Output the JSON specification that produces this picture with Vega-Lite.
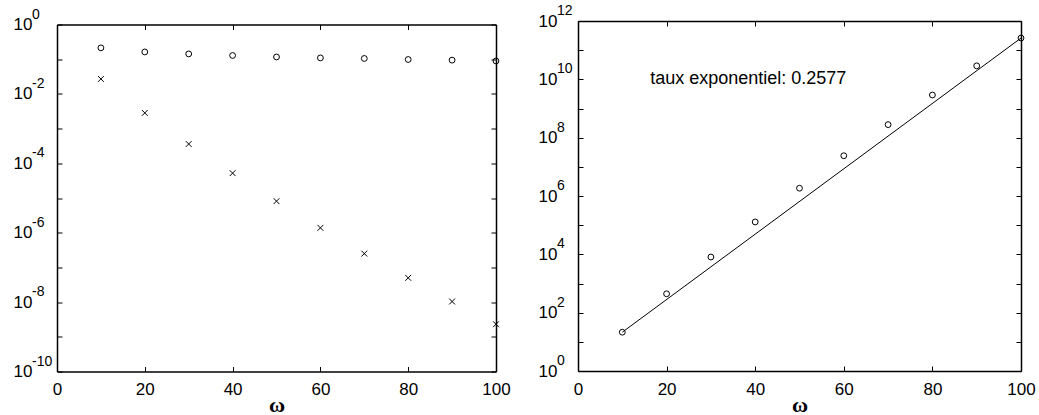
{
  "$schema": "https://vega.github.io/schema/vega-lite/v6.json",
  "padding": {"left": 13, "top": 4, "right": 5, "bottom": 0},
  "background": "white",
  "config": {
    "view": {"stroke": null},
    "axis": {
      "labelFont": "Liberation Sans",
      "labelFontSize": 17,
      "labelColor": "black",
      "tickColor": "black",
      "domainColor": "black",
      "tickSize": -5,
      "tickWidth": 1,
      "domainWidth": 1.5,
      "grid": false,
      "labelFlush": false,
      "labelOverlap": false,
      "labelBound": false
    }
  },
  "bounds": "full",
  "spacing": 27,
  "hconcat": [
    {
      "bounds": "flush",
      "spacing": 2.5,
      "vconcat": [
        {
          "width": 10,
          "height": 1,
          "data": {"values": [{"a": 1}]},
          "mark": {"type": "point", "opacity": 0},
          "encoding": {}
        },
        {
          "width": 439,
          "height": 347,
          "data": {
            "values": [
              {"w": 10, "v": 0.212, "s": "o"},
              {"w": 20, "v": 0.162, "s": "o"},
              {"w": 30, "v": 0.142, "s": "o"},
              {"w": 40, "v": 0.128, "s": "o"},
              {"w": 50, "v": 0.116, "s": "o"},
              {"w": 60, "v": 0.109, "s": "o"},
              {"w": 70, "v": 0.105, "s": "o"},
              {"w": 80, "v": 0.098, "s": "o"},
              {"w": 90, "v": 0.094, "s": "o"},
              {"w": 100, "v": 0.089, "s": "o"},
              {"w": 10, "v": 0.027, "s": "x"},
              {"w": 20, "v": 0.00283, "s": "x"},
              {"w": 30, "v": 0.00036, "s": "x"},
              {"w": 40, "v": 0.000052, "s": "x"},
              {"w": 50, "v": 0.0000081, "s": "x"},
              {"w": 60, "v": 0.00000138, "s": "x"},
              {"w": 70, "v": 0.00000025, "s": "x"},
              {"w": 80, "v": 0.00000005, "s": "x"},
              {"w": 90, "v": 0.0000000104, "s": "x"},
              {"w": 100, "v": 0.0000000023, "s": "x"}
            ]
          },
          "layer": [
            {
              "mark": {"type": "point", "filled": false, "color": "black", "strokeWidth": 1, "opacity": 1, "size": 34},
              "encoding": {
                "x": {
                  "field": "w", "type": "quantitative",
                  "scale": {"domain": [0, 100], "nice": false, "zero": false},
                  "axis": {"orient": "bottom", "values": [0, 20, 40, 60, 80, 100], "labelPadding": 15, "title": "ω", "titleFont": "Liberation Serif", "titleFontWeight": "bold", "titleFontSize": 22, "titlePadding": -3, "titleColor": "black"}
                },
                "y": {
                  "field": "v", "type": "quantitative",
                  "scale": {"type": "log", "domain": [1e-10, 1], "nice": false},
                  "axis": {"orient": "left", "values": [1e-10, 1e-9, 1e-8, 1e-7, 1e-6, 1e-5, 1e-4, 1e-3, 1e-2, 1e-1, 1], "labelExpr": "abs(round(log(datum.value)/LN10)) % 2 == 0 ? '10' : ''", "labelPadding": 30, "labelAlign": "right", "labelBaseline": "middle", "title": null}
                },
                "shape": {
                  "field": "s", "type": "nominal",
                  "scale": {"domain": ["o", "x"], "range": ["circle", "M-1,-1L1,1M-1,1L1,-1"]},
                  "legend": null
                }
              }
            },
            {
              "data": {
                "values": [
                  {"v": 1, "e": "0"},
                  {"v": 1e-2, "e": "-2"},
                  {"v": 1e-4, "e": "-4"},
                  {"v": 1e-6, "e": "-6"},
                  {"v": 1e-8, "e": "-8"},
                  {"v": 1e-10, "e": "-10"}
                ]
              },
              "mark": {"type": "text", "align": "left", "baseline": "middle", "dx": -25, "dy": -10, "fontSize": 14, "font": "Liberation Sans", "color": "black"},
              "encoding": {
                "x": {"datum": 0, "type": "quantitative", "axis": {"orient": "top", "values": [0, 20, 40, 60, 80, 100], "labels": false, "title": null}},
                "y": {"field": "v", "type": "quantitative", "axis": {"orient": "right", "values": [1e-10, 1e-9, 1e-8, 1e-7, 1e-6, 1e-5, 1e-4, 1e-3, 1e-2, 1e-1, 1], "labels": false, "title": null}},
                "text": {"field": "e"}
              }
            }
          ],
          "resolve": {"axis": {"x": "independent", "y": "independent"}}
        }
      ]
    },
    {
      "width": 443,
      "height": 350,
      "data": {
        "values": [
          {"w": 10, "v": 21.4},
          {"w": 20, "v": 444},
          {"w": 30, "v": 8100},
          {"w": 40, "v": 129000},
          {"w": 50, "v": 1850000},
          {"w": 60, "v": 24000000},
          {"w": 70, "v": 280000000},
          {"w": 80, "v": 2900000000},
          {"w": 90, "v": 29000000000},
          {"w": 100, "v": 260000000000}
        ]
      },
      "layer": [
        {
          "mark": {"type": "point", "filled": false, "color": "black", "strokeWidth": 1, "opacity": 1, "size": 34, "shape": "circle"},
          "encoding": {
            "x": {
              "field": "w", "type": "quantitative",
              "scale": {"domain": [0, 100], "nice": false, "zero": false},
              "axis": {"orient": "bottom", "values": [0, 20, 40, 60, 80, 100], "labelPadding": 15, "title": "ω", "titleFont": "Liberation Serif", "titleFontWeight": "bold", "titleFontSize": 22, "titlePadding": -3, "titleColor": "black"}
            },
            "y": {
              "field": "v", "type": "quantitative",
              "scale": {"type": "log", "domain": [1, 1e12], "nice": false},
              "axis": {"orient": "left", "values": [1, 1e1, 1e2, 1e3, 1e4, 1e5, 1e6, 1e7, 1e8, 1e9, 1e10, 1e11, 1e12], "labelExpr": "abs(round(log(datum.value)/LN10)) % 2 == 0 ? '10' : ''", "labelPadding": 26, "labelAlign": "right", "labelBaseline": "middle", "title": null}
            }
          }
        },
        {
          "data": {"values": [{"w": 10, "v": 21.4}, {"w": 100, "v": 260000000000}]},
          "mark": {"type": "line", "color": "black", "strokeWidth": 1},
          "encoding": {
            "x": {"field": "w", "type": "quantitative", "axis": null},
            "y": {"field": "v", "type": "quantitative", "axis": null}
          }
        },
        {
          "data": {"values": [{"label": "taux exponentiel: 0.2577"}]},
          "mark": {"type": "text", "align": "left", "baseline": "middle", "fontSize": 18, "font": "Liberation Sans", "color": "black"},
          "encoding": {
            "x": {"datum": 16.3, "type": "quantitative", "axis": null},
            "y": {"datum": 1e10, "type": "quantitative", "axis": null},
            "text": {"field": "label"}
          }
        },
        {
          "data": {
            "values": [
              {"v": 1, "e": "0"},
              {"v": 1e2, "e": "2"},
              {"v": 1e4, "e": "4"},
              {"v": 1e6, "e": "6"},
              {"v": 1e8, "e": "8"},
              {"v": 1e10, "e": "10"},
              {"v": 1e12, "e": "12"}
            ]
          },
          "mark": {"type": "text", "align": "left", "baseline": "middle", "dx": -21, "dy": -10, "fontSize": 14, "font": "Liberation Sans", "color": "black"},
          "encoding": {
            "x": {"datum": 0, "type": "quantitative", "axis": {"orient": "top", "values": [0, 20, 40, 60, 80, 100], "labels": false, "title": null}},
            "y": {"field": "v", "type": "quantitative", "axis": {"orient": "right", "values": [1, 1e1, 1e2, 1e3, 1e4, 1e5, 1e6, 1e7, 1e8, 1e9, 1e10, 1e11, 1e12], "labels": false, "title": null}},
            "text": {"field": "e"}
          }
        }
      ],
      "resolve": {"axis": {"x": "independent", "y": "independent"}}
    }
  ]
}
